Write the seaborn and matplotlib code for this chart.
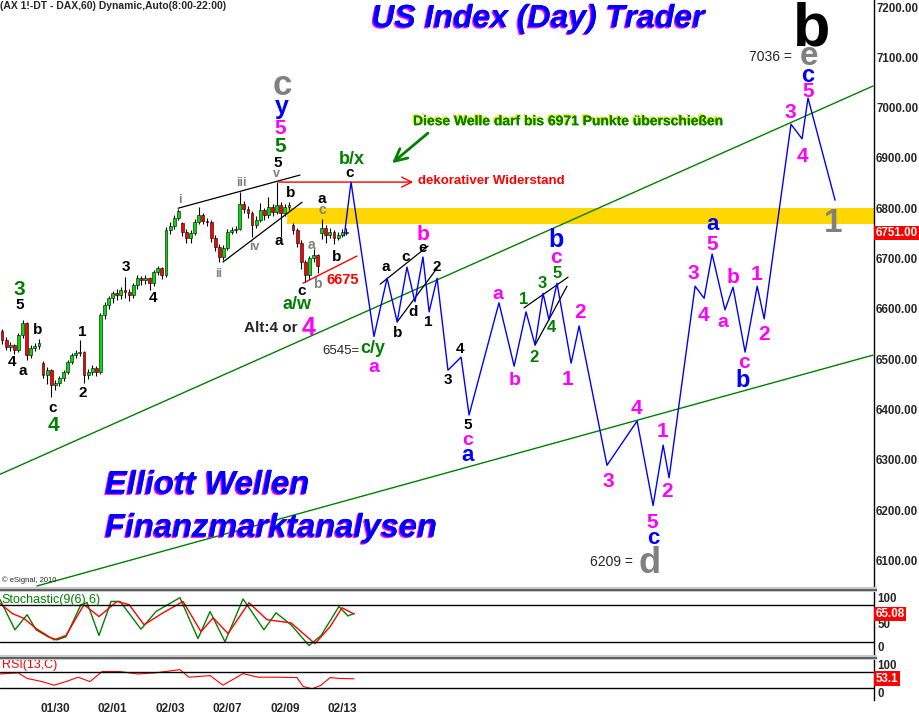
import seaborn as sns
import matplotlib.pyplot as plt
import matplotlib.patheffects as pe
from matplotlib.patches import Rectangle

# --- hourly DAX candles (2h bars), prices ---
opens = [6555, 6538, 6524, 6528, 6518, 6548, 6572, 6508, 6522, 6526,
         6492, 6468, 6478, 6449, 6452, 6462, 6474, 6494, 6508, 6512,
         6514, 6468, 6474, 6482, 6474, 6588, 6608, 6621, 6631, 6627,
         6637, 6633, 6627, 6647, 6661, 6657, 6661, 6651, 6673, 6681,
         6667, 6757, 6765, 6781, 6770, 6753, 6741, 6751, 6773, 6786,
         6775, 6773, 6741, 6723, 6703, 6721, 6753, 6757, 6759, 6808,
         6798, 6790, 6767, 6777, 6796, 6786, 6802, 6792, 6806, 6790,
         6802, 6767, 6757, 6731, 6693, 6667, 6701, 6707, 6750, 6761,
         6747, 6753, 6741, 6747, 6753]
closes = [6538, 6524, 6528, 6518, 6548, 6572, 6508, 6522, 6526, 6532,
          6468, 6478, 6449, 6452, 6462, 6474, 6494, 6508, 6512, 6514,
          6468, 6474, 6482, 6474, 6588, 6608, 6621, 6631, 6627, 6637,
          6633, 6627, 6647, 6661, 6657, 6661, 6651, 6673, 6681, 6667,
          6757, 6765, 6781, 6794, 6753, 6741, 6751, 6773, 6786, 6775,
          6773, 6741, 6723, 6703, 6721, 6753, 6757, 6759, 6808, 6798,
          6790, 6767, 6777, 6796, 6786, 6802, 6792, 6806, 6790, 6802,
          6806, 6757, 6731, 6693, 6667, 6701, 6707, 6685, 6761, 6747,
          6753, 6741, 6747, 6753, 6751]
highs = [6560, 6545, 6534, 6530, 6552, 6578, 6574, 6528, 6532, 6540,
         6496, 6484, 6480, 6458, 6466, 6478, 6498, 6512, 6518, 6538,
         6516, 6480, 6488, 6486, 6592, 6614, 6626, 6636, 6640, 6644,
         6663, 6640, 6652, 6668, 6666, 6668, 6664, 6678, 6686, 6684,
         6762, 6772, 6786, 6798, 6772, 6758, 6756, 6778, 6802, 6790,
         6780, 6776, 6746, 6728, 6726, 6758, 6762, 6764, 6832, 6814,
         6804, 6794, 6784, 6810, 6800, 6822, 6808, 6852, 6812, 6808,
         6812, 6770, 6760, 6736, 6698, 6706, 6718, 6710, 6778, 6766,
         6760, 6756, 6752, 6758, 6760]
lows = [6530, 6518, 6516, 6510, 6514, 6542, 6498, 6502, 6516, 6520,
        6462, 6450, 6425, 6438, 6446, 6456, 6470, 6490, 6502, 6506,
        6452, 6460, 6468, 6466, 6470, 6580, 6600, 6612, 6618, 6620,
        6622, 6616, 6622, 6640, 6648, 6650, 6637, 6646, 6668, 6660,
        6664, 6748, 6758, 6776, 6744, 6730, 6730, 6746, 6768, 6768,
        6764, 6732, 6714, 6693, 6698, 6716, 6748, 6750, 6756, 6790,
        6780, 6743, 6760, 6772, 6776, 6780, 6784, 6788, 6743, 6784,
        6796, 6748, 6722, 6680, 6653, 6660, 6694, 6671, 6738, 6730,
        6740, 6728, 6736, 6742, 6746]

# --- projected wave path (blue) ---
proj_x = [168, 171.3, 182.5, 188.9, 193.8, 198.6, 202.5, 206.4, 209.4, 213.3,
          218.6, 225.0, 228.9, 243.5, 250.9, 256.7, 261.1, 265.0, 267.9, 271.8,
          278.7, 282.6, 296.2, 310.9, 318.7, 323.6, 326.5, 339.2, 343.6, 347.5,
          353.8, 357.7, 363.6, 369.5, 372.9, 386.0, 391.4, 394.3, 407.5]
proj_y = [6745, 6852, 6545, 6661, 6574, 6683, 6614, 6703, 6594, 6661,
          6478, 6504, 6389, 6612, 6486, 6594, 6528, 6631, 6578, 6651,
          6492, 6566, 6289, 6377, 6209, 6329, 6264, 6645, 6621, 6709,
          6598, 6643, 6514, 6645, 6580, 6967, 6938, 7019, 6816]

# --- stochastic %K / %D and RSI ---
stoch_k_x = [0, 7.3, 13.2, 17.6, 23.4, 27.8, 32.2, 39.5, 42.5, 48.3, 54.2, 58.6, 68.8, 76.1,
             87.8, 96.6, 102.5, 109.8, 118.6, 128.8, 134.7, 142, 150.8, 156.7, 165.4, 169.8, 172.8]
stoch_k = [88, 40, 64, 40, 29, 24, 29, 80, 83, 31, 85, 85, 41, 69,
           91, 26, 69, 21, 89, 40, 67, 48, 15, 31, 77, 62, 66]
stoch_d_x = [0, 5.9, 11.7, 17.6, 26.4, 32.2, 41, 48.3, 57.1, 63, 70.3, 79.1, 89.3, 98.1,
             104, 111.3, 121.5, 130.3, 142, 153.7, 161.1, 166.9, 172.8]
stoch_d = [82, 66, 58, 42, 24, 31, 80, 61, 85, 80, 48, 66, 85, 37,
           59, 34, 83, 56, 51, 18, 45, 75, 65]
rsi_x = [0, 8.8, 13.2, 20.5, 26.4, 32.2, 38.1, 43.9, 49.8, 58.6, 67.3, 76.1, 87.8, 92.2,
         102.5, 108.8, 118.6, 125.9, 134.7, 144.9, 147.9, 152.3, 156.7, 161.1, 165.4, 172.8]
rsi_v = [65, 68, 54, 46, 37, 46, 57, 46, 71, 71, 65, 68, 76, 57,
         61, 37, 66, 57, 57, 56, 34, 28, 37, 56, 54, 53]

date_pos = [27, 55, 83, 111, 139, 167]
date_labels = ['01/30', '02/01', '02/03', '02/07', '02/09', '02/13']
price_ticks = list(range(6100, 7201, 100))

# trend channel and helper lines (start/end points)
upper_green = ([0, 426], [6271, 7043])
lower_green = ([18, 426], [6049, 6508])
wedge_lines = [([86.9, 146.4], [6800, 6866]), ([108.8, 147.4], [6693, 6812]),
               ([185.5, 208.9], [6649, 6725]), ([193.8, 213.3], [6574, 6681]),
               ([255.7, 277.2], [6602, 6663]), ([261.1, 276.7], [6528, 6645])]
support_6675 = ([147.9, 174.2], [6651, 6705])

BLK, MAG, GRN, BLU, GRY = 'black', '#ff00ff', '#008000', '#0000ff', '#808080'
wave_labels = [
    (135.7, 6890, '5', BLK, 11), (134.7, 6868, 'v', GRY, 9), (117.6, 6850, 'iii', GRY, 9),
    (87.8, 6816, 'i', GRY, 9), (142.0, 6830, 'b', BLK, 11), (136.2, 6735, 'a', BLK, 11),
    (124.0, 6723, 'iv', GRY, 9), (106.9, 6669, 'ii', GRY, 9), (157.2, 6818, 'a', BLK, 11),
    (157.2, 6796, 'c', GRY, 10), (151.8, 6727, 'a', GRY, 10), (164.5, 6703, 'b', BLK, 11),
    (154.7, 6649, 'b', GRY, 10), (147.4, 6635, 'c', BLK, 11), (145.0, 6608, 'a/w', GRN, 13),
    (61.5, 6683, '3', BLK, 11), (74.7, 6621, '4', BLK, 11), (9.3, 6639, '3', GRN, 15),
    (9.8, 6608, '5', BLK, 11), (18.5, 6558, 'b', BLK, 11), (5.9, 6494, '4', BLK, 11),
    (11.2, 6476, 'a', BLK, 11), (40.0, 6554, '1', BLK, 11), (40.5, 6433, '2', BLK, 11),
    (25.9, 6403, 'c', BLK, 11), (25.9, 6369, '4', GRN, 15), (171.8, 6896, 'b/x', GRN, 13),
    (170.8, 6870, 'c', BLK, 11), (150.8, 6562, '4', MAG, 18), (182.0, 6522, 'c/y', GRN, 13),
    (182.5, 6484, 'a', MAG, 14), (188.4, 6683, 'a', BLK, 11), (194.2, 6552, 'b', BLK, 11),
    (198.1, 6703, 'c', BLK, 11), (201.6, 6594, 'd', BLK, 11), (206.4, 6721, 'e', BLK, 11),
    (206.4, 6747, 'b', MAG, 15), (208.9, 6574, '1', BLK, 11), (213.3, 6683, '2', BLK, 11),
    (218.6, 6459, '3', BLK, 11), (224.5, 6520, '4', BLK, 11), (228.4, 6369, '5', BLK, 11),
    (228.4, 6339, 'c', MAG, 14), (228.4, 6309, 'a', BLU, 16), (243.0, 6629, 'a', MAG, 14),
    (250.9, 6458, 'b', MAG, 14), (255.7, 6619, '1', GRN, 12), (260.6, 6504, '2', GRN, 12),
    (264.5, 6651, '3', GRN, 12), (268.9, 6562, '4', GRN, 12), (271.8, 6671, '5', GRN, 12),
    (271.4, 6703, 'c', MAG, 15), (271.4, 6737, 'b', BLU, 18), (276.7, 6459, '1', MAG, 15),
    (283.1, 6592, '2', MAG, 15), (296.7, 6256, '3', MAG, 15), (310.4, 6401, '4', MAG, 15),
    (323.1, 6357, '1', MAG, 15), (325.5, 6236, '2', MAG, 15), (318.2, 6176, '5', MAG, 15),
    (318.7, 6144, 'c', BLU, 16), (338.2, 6671, '3', MAG, 15), (343.1, 6586, '4', MAG, 15),
    (347.5, 6727, '5', MAG, 15), (347.5, 6767, 'a', BLU, 16), (352.9, 6572, 'a', MAG, 14),
    (357.7, 6663, 'b', MAG, 15), (363.1, 6494, 'c', MAG, 15), (362.6, 6458, 'b', BLU, 17),
    (369.0, 6669, '1', MAG, 15), (372.9, 6548, '2', MAG, 15), (394.3, 7063, 'c', BLU, 17),
    (394.3, 7033, '5', MAG, 15), (385.6, 6991, '3', MAG, 15), (391.4, 6902, '4', MAG, 15),
    (137.6, 7001, 'y', BLU, 18), (136.7, 6959, '5', MAG, 15), (136.7, 6922, '5', GRN, 15),
]
# big degree labels drawn on their baseline
big_labels = [(137.6, 7025, 'c', GRY, 25), (317.2, 6075, 'd', GRY, 26),
              (406.5, 6753, '1', GRY, 24), (396.3, 7124, 'b', BLK, 44),
              (394.8, 7084, 'e', GRY, 24)]

sns.set_theme(style='white')
plt.rcParams['font.family'] = ['Liberation Sans', 'DejaVu Sans']

W, H = 919, 720
fig = plt.figure(figsize=(W / 100, H / 100), dpi=100)
fig.patch.set_facecolor('white')
right = 874 / W
ax = fig.add_axes([0, 1 - 587 / H, right, 587 / H])
ax_st = fig.add_axes([0, 1 - 655 / H, right, 63 / H])
ax_rsi = fig.add_axes([0, 1 - 700 / H, right, 40 / H])

for a in (ax, ax_st, ax_rsi):
    a.set_facecolor('white')
    a.set_xlim(0, 426.5)
    for s in ('left', 'top', 'bottom'):
        a.spines[s].set_visible(False)
    a.spines['right'].set_color('black')
    a.spines['right'].set_linewidth(1)
    a.set_xticks([])

# yellow resistance zone
ax.add_patch(Rectangle((140, 6769), 300, 31, fc='#ffd700', ec='none', zorder=1))

# channel lines
sns.lineplot(x=upper_green[0], y=upper_green[1], ax=ax, color='#008000', lw=1, zorder=2)
sns.lineplot(x=lower_green[0], y=lower_green[1], ax=ax, color='#008000', lw=1, zorder=2)
for xs, ys in wedge_lines:
    sns.lineplot(x=xs, y=ys, ax=ax, color='black', lw=0.9, zorder=3)
sns.lineplot(x=support_6675[0], y=support_6675[1], ax=ax, color='red', lw=1, zorder=3)

# candles
xs = [1 + 2 * i for i in range(len(closes))]
ax.vlines(xs, lows, highs, color='black', lw=0.8, zorder=4)
body_col = ['#00e000' if c >= o else '#ff0000' for o, c in zip(opens, closes)]
ax.bar(xs, [max(abs(c - o), 1.5) for o, c in zip(opens, closes)],
       bottom=[min(o, c) for o, c in zip(opens, closes)], width=1.4,
       color=body_col, edgecolor='black', linewidth=0.4, zorder=5)

# projection
sns.lineplot(x=proj_x, y=proj_y, ax=ax, color='#0000ff', lw=1, sort=False,
             estimator=None, zorder=6)

# resistance arrow and note arrow
ax.annotate('', xy=(203, 6852), xytext=(134.7, 6852),
            arrowprops=dict(arrowstyle='->', color='red', lw=1, mutation_scale=18))
ax.text(204, 6854, 'dekorativer Widerstand', color='red', fontsize=9.5,
        fontweight='bold', ha='left', va='center')
ax.annotate('', xy=(190.3, 6886), xytext=(209.9, 6953),
            arrowprops=dict(arrowstyle='->', color='#008000', lw=2, mutation_scale=22))
ax.text(201.6, 6973, 'Diese Welle darf bis 6971 Punkte überschießen', color='#008000',
        fontsize=10, fontweight='bold', ha='left', va='center',
        path_effects=[pe.withSimplePatchShadow(offset=(-1, 1), shadow_rgbFace='#e8e800', alpha=1),
                      pe.Normal()])

for x, y, t, c, s in wave_labels:
    ax.text(x, y, t, color=c, fontsize=s, fontweight='bold', ha='center', va='center', zorder=7)
for x, y, t, c, s in big_labels:
    ax.text(x, y, t, color=c, fontsize=s, fontweight='bold', ha='center', va='baseline', zorder=7)

ax.text(145, 6562, 'Alt:4 or', fontsize=11, fontweight='bold', ha='right', va='center')
ax.text(175.7, 6516, '6545=', fontsize=9.5, ha='right', va='center')
ax.text(309, 6097, '6209 =', fontsize=10, ha='right', va='center')
ax.text(386.5, 7101, '7036 =', fontsize=10, ha='right', va='center')
ax.text(167.4, 6657, '6675', color='red', fontsize=10.5, fontweight='bold', ha='center', va='center')

ax.set_ylim(6047, 7214)
ax.yaxis.tick_right()
ax.set_yticks(price_ticks)
ax.set_yticklabels([f'{v:.2f}' for v in price_ticks])
ax.tick_params(axis='y', length=0, pad=1.5, labelsize=8.3)
for lab in ax.get_yticklabels():
    lab.set_fontweight('bold')
ax.set_xlabel('')
ax.set_ylabel('')
ax.text(1.002, 6751, '6751.00', transform=ax.get_yaxis_transform(), color='white',
        fontsize=8.3, fontweight='bold', ha='left', va='center',
        bbox=dict(fc='red', ec='none', pad=1.0))

# stochastic panel
sns.lineplot(x=stoch_k_x, y=stoch_k, ax=ax_st, color='#008000', lw=1, sort=False, estimator=None)
sns.lineplot(x=stoch_d_x, y=stoch_d, ax=ax_st, color='#ff0000', lw=1, sort=False, estimator=None)
ax_st.axhline(80, color='black', lw=1)
ax_st.axhline(20, color='black', lw=1)
ax_st.set_ylim(0, 100)
ax_st.set_yticks([])
ax_st.set_ylabel('')
ax_st.text(0.002, 0.88, 'Stochastic(9(6),6)', transform=ax_st.transAxes, color='#008000',
           fontsize=9, ha='left', va='center')
yt = ax_st.get_yaxis_transform()
ax_st.text(1.004, 99, '100', transform=yt, fontsize=8.3, fontweight='bold', va='top')
ax_st.text(1.004, 47, '50', transform=yt, fontsize=8.3, fontweight='bold', va='center')
ax_st.text(1.004, 1, '0', transform=yt, fontsize=8.3, fontweight='bold', va='bottom')
ax_st.text(1.002, 65.08, '65.08', transform=yt, color='white', fontsize=8.3, fontweight='bold',
           va='center', bbox=dict(fc='red', ec='none', pad=1.0))

# RSI panel
sns.lineplot(x=rsi_x, y=rsi_v, ax=ax_rsi, color='#ff0000', lw=0.8, sort=False, estimator=None)
ax_rsi.axhline(70, color='black', lw=1)
ax_rsi.axhline(30, color='black', lw=1)
ax_rsi.set_ylim(0, 100)
ax_rsi.set_yticks([])
ax_rsi.set_ylabel('')
ax_rsi.text(0.002, 0.87, 'RSI(13,C)', transform=ax_rsi.transAxes, color='#ff0000',
            fontsize=9, ha='left', va='center')
yt = ax_rsi.get_yaxis_transform()
ax_rsi.text(1.004, 99, '100', transform=yt, fontsize=8.3, fontweight='bold', va='top')
ax_rsi.text(1.004, 1, '0', transform=yt, fontsize=8.3, fontweight='bold', va='bottom')
ax_rsi.text(1.002, 53.1, '53.1', transform=yt, color='white', fontsize=8.3, fontweight='bold',
            va='center', bbox=dict(fc='red', ec='none', pad=1.0))
ax_rsi.set_xticks(date_pos)
ax_rsi.set_xticklabels(date_labels)
ax_rsi.tick_params(axis='x', length=0, pad=2, labelsize=8.5)
for lab in ax_rsi.get_xticklabels():
    lab.set_fontweight('bold')

# panel separators
for top in (587, 655):
    fig.add_artist(Rectangle((0, 1 - (top + 5) / H), 877 / W, 5 / H, transform=fig.transFigure,
                             fc='#c8c8c8', ec='none'))
    fig.add_artist(Rectangle((0, 1 - (top + 4) / H), 877 / W, 2 / H, transform=fig.transFigure,
                             fc='#606060', ec='none'))

# headers and branding
fig.text(0.0, 1 - 6 / H, '(AX 1!-DT - DAX,60) Dynamic,Auto(8:00-22:00)', fontsize=7.5,
         fontweight='bold', ha='left', va='center')
shadow = [pe.withSimplePatchShadow(offset=(-1, -1), shadow_rgbFace='#ff00ff', alpha=1), pe.Normal()]
fig.text(538 / W, 1 - 19 / H, 'US Index (Day) Trader', color='#0000ff', fontsize=23,
         fontweight='bold', fontstyle='italic', ha='center', va='center', path_effects=shadow)
fig.text(105 / W, 1 - 485 / H, 'Elliott Wellen', color='#0000ff', fontsize=23.5,
         fontweight='bold', fontstyle='italic', ha='left', va='center', path_effects=shadow)
fig.text(105 / W, 1 - 528 / H, 'Finanzmarktanalysen', color='#0000ff', fontsize=23.5,
         fontweight='bold', fontstyle='italic', ha='left', va='center', path_effects=shadow)
fig.text(2 / W, 1 - 580 / H, '© eSignal, 2010', fontsize=5.5, ha='left', va='center')

fig.savefig('out.png', dpi=100)
